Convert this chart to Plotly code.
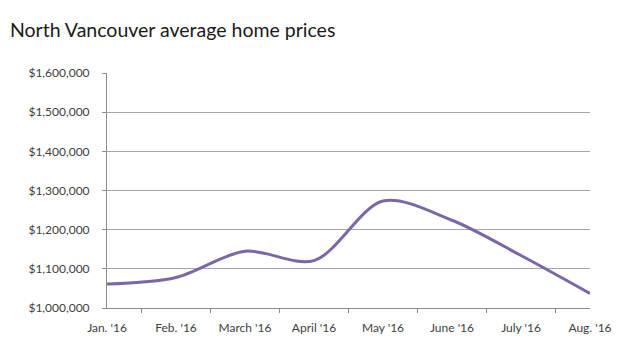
import plotly.graph_objects as go

months = ["Jan. '16", "Feb. '16", "March '16", "April '16", "May '16", "June '16", "July '16", "Aug. '16"]
avg_price = [1061000, 1078000, 1145000, 1121000, 1273000, 1224000, 1134000, 1037000]
y_ticks = [1000000, 1100000, 1200000, 1300000, 1400000, 1500000, 1600000]
y_tick_text = ["$1,000,000", "$1,100,000", "$1,200,000", "$1,300,000", "$1,400,000", "$1,500,000", "$1,600,000"]

fig = go.Figure()
fig.add_trace(go.Scatter(
    x=months, y=avg_price, mode="lines",
    line=dict(color="#7B66A8", width=3, shape="spline", smoothing=0.9),
    hoverinfo="x+y", showlegend=False,
))

fig.update_layout(
    width=624, height=354,
    margin=dict(l=107, r=12, t=73, b=46),
    paper_bgcolor="white", plot_bgcolor="white",
    title=dict(text="North Vancouver average home prices", x=0.016, xanchor="left",
               y=0.915, yanchor="middle",
               font=dict(family="Lato, Open Sans, sans-serif", size=19.5, color="#1a1a1a")),
    font=dict(family="Lato, Open Sans, sans-serif", size=12, color="#404040"),
)
fig.update_xaxes(
    type="category", showline=True, linecolor="#8c8c8c", linewidth=1,
    ticks="outside", tickson="boundaries", ticklen=4, tickcolor="#8c8c8c",
    ticklabelstandoff=9,
    showgrid=False, tickfont=dict(size=12, color="#404040"),
)
fig.update_yaxes(
    range=[1000000, 1600000], tickvals=y_ticks, ticktext=y_tick_text,
    showline=True, linecolor="#8c8c8c", linewidth=1,
    ticks="outside", ticklen=4, tickcolor="#8c8c8c",
    ticklabelstandoff=10,
    showgrid=True, gridcolor="#a6a6a6", gridwidth=1, zeroline=False,
    tickfont=dict(size=12, color="#404040"),
)

fig.write_html("out.html")
